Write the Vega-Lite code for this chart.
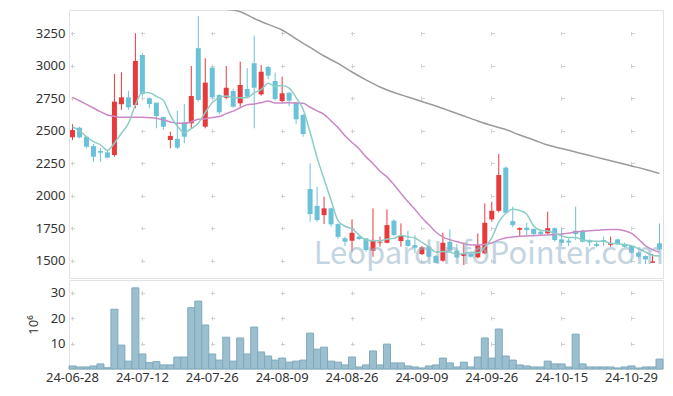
{
  "$schema": "https://vega.github.io/schema/vega-lite/v6.json",
  "background": "white",
  "padding": {"left": 26, "top": 9, "right": 10, "bottom": 5},
  "spacing": 0,
  "datasets": {
    "px": [
      {"d":"24-06-28","o":2450,"h":2550,"l":2429,"c":2505,"v":1.2,"m5":2531,"m20":2757},
      {"d":"24-07-01","o":2523,"h":2531,"l":2442,"c":2449,"v":0.8,"m5":2500,"m20":2731},
      {"d":"24-07-02","o":2454,"h":2456,"l":2365,"c":2377,"v":0.8,"m5":2454,"m20":2703},
      {"d":"24-07-03","o":2382,"h":2398,"l":2262,"c":2300,"v":1.2,"m5":2416,"m20":2675},
      {"d":"24-07-04","o":2344,"h":2370,"l":2262,"c":2331,"v":2.0,"m5":2392,"m20":2647},
      {"d":"24-07-05","o":2334,"h":2344,"l":2288,"c":2293,"v":0.5,"m5":2350,"m20":2621},
      {"d":"24-07-08","o":2313,"h":2937,"l":2300,"c":2724,"v":23.5,"m5":2405,"m20":2611},
      {"d":"24-07-09","o":2704,"h":2950,"l":2660,"c":2757,"v":9.4,"m5":2481,"m20":2603},
      {"d":"24-07-10","o":2757,"h":2808,"l":2660,"c":2680,"v":3.1,"m5":2557,"m20":2603},
      {"d":"24-07-11","o":2698,"h":3250,"l":2673,"c":3037,"v":31.9,"m5":2698,"m20":2603},
      {"d":"24-07-12","o":3083,"h":3096,"l":2762,"c":2783,"v":5.9,"m5":2796,"m20":2603},
      {"d":"24-07-15","o":2750,"h":2757,"l":2673,"c":2706,"v":2.5,"m5":2793,"m20":2600},
      {"d":"24-07-16","o":2716,"h":2716,"l":2519,"c":2613,"v":2.9,"m5":2764,"m20":2596},
      {"d":"24-07-17","o":2606,"h":2608,"l":2506,"c":2531,"v":1.6,"m5":2734,"m20":2583},
      {"d":"24-07-18","o":2429,"h":2493,"l":2365,"c":2460,"v":1.6,"m5":2619,"m20":2568},
      {"d":"24-07-19","o":2437,"h":2654,"l":2359,"c":2370,"v":4.7,"m5":2536,"m20":2557},
      {"d":"24-07-22","o":2565,"h":2706,"l":2403,"c":2454,"v":4.7,"m5":2486,"m20":2557},
      {"d":"24-07-23","o":2557,"h":2998,"l":2519,"c":2767,"v":24.1,"m5":2516,"m20":2570},
      {"d":"24-07-24","o":3135,"h":3383,"l":2724,"c":2737,"v":26.7,"m5":2558,"m20":2588},
      {"d":"24-07-25","o":2531,"h":3058,"l":2519,"c":2870,"v":17.3,"m5":2640,"m20":2592},
      {"d":"24-07-26","o":2985,"h":2993,"l":2750,"c":2757,"v":5.9,"m5":2717,"m20":2602},
      {"d":"24-07-29","o":2775,"h":2780,"l":2627,"c":2642,"v":3.5,"m5":2755,"m20":2609},
      {"d":"24-07-30","o":2754,"h":2998,"l":2744,"c":2831,"v":12.5,"m5":2767,"m20":2632},
      {"d":"24-07-31","o":2806,"h":2821,"l":2677,"c":2685,"v":3.1,"m5":2757,"m20":2651},
      {"d":"24-08-01","o":2711,"h":3032,"l":2685,"c":2852,"v":12.2,"m5":2753,"m20":2677},
      {"d":"24-08-02","o":2821,"h":2981,"l":2754,"c":2762,"v":5.9,"m5":2754,"m20":2701},
      {"d":"24-08-05","o":3019,"h":3232,"l":2519,"c":2831,"v":16.5,"m5":2792,"m20":2706},
      {"d":"24-08-06","o":2780,"h":3006,"l":2770,"c":2954,"v":6.7,"m5":2817,"m20":2716},
      {"d":"24-08-07","o":2991,"h":2998,"l":2898,"c":2924,"v":5.1,"m5":2865,"m20":2728},
      {"d":"24-08-08","o":2883,"h":2947,"l":2731,"c":2744,"v":3.5,"m5":2843,"m20":2714},
      {"d":"24-08-09","o":2729,"h":2916,"l":2716,"c":2788,"v":4.3,"m5":2848,"m20":2714},
      {"d":"24-08-12","o":2793,"h":2796,"l":2690,"c":2731,"v":2.7,"m5":2828,"m20":2715},
      {"d":"24-08-13","o":2716,"h":2719,"l":2552,"c":2588,"v":3.1,"m5":2755,"m20":2714},
      {"d":"24-08-14","o":2621,"h":2629,"l":2454,"c":2475,"v":3.5,"m5":2665,"m20":2711},
      {"d":"24-08-16","o":2052,"h":2249,"l":1800,"c":1859,"v":14.1,"m5":2488,"m20":2681},
      {"d":"24-08-19","o":1921,"h":2069,"l":1800,"c":1813,"v":7.8,"m5":2293,"m20":2653},
      {"d":"24-08-20","o":1851,"h":1992,"l":1782,"c":1903,"v":8.6,"m5":2128,"m20":2626},
      {"d":"24-08-21","o":1903,"h":1908,"l":1761,"c":1780,"v":3.1,"m5":1966,"m20":2576},
      {"d":"24-08-22","o":1782,"h":1787,"l":1667,"c":1684,"v":2.7,"m5":1808,"m20":2524},
      {"d":"24-08-23","o":1672,"h":1685,"l":1613,"c":1646,"v":1.6,"m5":1765,"m20":2462},
      {"d":"24-08-26","o":1654,"h":1819,"l":1569,"c":1715,"v":4.7,"m5":1746,"m20":2410},
      {"d":"24-08-27","o":1685,"h":1697,"l":1659,"c":1667,"v":0.8,"m5":1698,"m20":2362},
      {"d":"24-08-28","o":1672,"h":1672,"l":1569,"c":1582,"v":1.6,"m5":1659,"m20":2299},
      {"d":"24-08-29","o":1577,"h":1903,"l":1531,"c":1660,"v":7.1,"m5":1654,"m20":2248},
      {"d":"24-08-30","o":1639,"h":1685,"l":1608,"c":1646,"v":1.6,"m5":1654,"m20":2188},
      {"d":"24-09-02","o":1638,"h":1895,"l":1634,"c":1774,"v":9.8,"m5":1666,"m20":2145},
      {"d":"24-09-03","o":1808,"h":1818,"l":1690,"c":1698,"v":2.4,"m5":1672,"m20":2085},
      {"d":"24-09-04","o":1651,"h":1787,"l":1608,"c":1690,"v":2.4,"m5":1694,"m20":2018},
      {"d":"24-09-05","o":1659,"h":1731,"l":1608,"c":1613,"v":1.2,"m5":1684,"m20":1953},
      {"d":"24-09-06","o":1620,"h":1697,"l":1557,"c":1600,"v":0.8,"m5":1675,"m20":1896},
      {"d":"24-09-09","o":1551,"h":1613,"l":1544,"c":1603,"v":0.4,"m5":1641,"m20":1830},
      {"d":"24-09-10","o":1608,"h":1613,"l":1518,"c":1531,"v":1.2,"m5":1607,"m20":1776},
      {"d":"24-09-11","o":1536,"h":1544,"l":1480,"c":1484,"v":1.6,"m5":1566,"m20":1721},
      {"d":"24-09-12","o":1500,"h":1715,"l":1492,"c":1638,"v":4.3,"m5":1571,"m20":1682},
      {"d":"24-09-13","o":1646,"h":1741,"l":1569,"c":1577,"v":2.4,"m5":1567,"m20":1662},
      {"d":"24-09-19","o":1577,"h":1628,"l":1518,"c":1526,"v":0.8,"m5":1551,"m20":1646},
      {"d":"24-09-20","o":1536,"h":1639,"l":1467,"c":1551,"v":2.7,"m5":1555,"m20":1633},
      {"d":"24-09-23","o":1556,"h":1562,"l":1523,"c":1531,"v":0.8,"m5":1565,"m20":1621},
      {"d":"24-09-24","o":1526,"h":1711,"l":1518,"c":1621,"v":4.7,"m5":1561,"m20":1620},
      {"d":"24-09-25","o":1557,"h":1941,"l":1551,"c":1792,"v":12.2,"m5":1604,"m20":1627},
      {"d":"24-09-26","o":1818,"h":1954,"l":1800,"c":1884,"v":4.3,"m5":1676,"m20":1636},
      {"d":"24-09-27","o":1884,"h":2321,"l":1871,"c":2159,"v":15.7,"m5":1797,"m20":1660},
      {"d":"24-09-30","o":2216,"h":2224,"l":1865,"c":1869,"v":5.1,"m5":1865,"m20":1675},
      {"d":"24-10-02","o":1805,"h":1916,"l":1757,"c":1774,"v":3.5,"m5":1896,"m20":1682},
      {"d":"24-10-04","o":1738,"h":1757,"l":1684,"c":1751,"v":1.6,"m5":1887,"m20":1688},
      {"d":"24-10-07","o":1754,"h":1793,"l":1697,"c":1736,"v":1.2,"m5":1858,"m20":1690},
      {"d":"24-10-08","o":1744,"h":1749,"l":1690,"c":1705,"v":0.8,"m5":1767,"m20":1693},
      {"d":"24-10-10","o":1723,"h":1737,"l":1690,"c":1705,"v":0.8,"m5":1734,"m20":1695},
      {"d":"24-10-11","o":1711,"h":1877,"l":1703,"c":1750,"v":3.1,"m5":1729,"m20":1698},
      {"d":"24-10-14","o":1750,"h":1757,"l":1646,"c":1659,"v":2.0,"m5":1711,"m20":1702},
      {"d":"24-10-15","o":1664,"h":1750,"l":1613,"c":1638,"v":2.0,"m5":1691,"m20":1706},
      {"d":"24-10-16","o":1654,"h":1672,"l":1613,"c":1641,"v":0.8,"m5":1679,"m20":1712},
      {"d":"24-10-17","o":1731,"h":1916,"l":1659,"c":1705,"v":13.7,"m5":1679,"m20":1722},
      {"d":"24-10-18","o":1731,"h":1737,"l":1641,"c":1646,"v":2.0,"m5":1658,"m20":1726},
      {"d":"24-10-21","o":1654,"h":1664,"l":1613,"c":1641,"v":0.8,"m5":1654,"m20":1730},
      {"d":"24-10-22","o":1628,"h":1646,"l":1603,"c":1613,"v":0.8,"m5":1649,"m20":1734},
      {"d":"24-10-23","o":1659,"h":1685,"l":1613,"c":1644,"v":0.8,"m5":1650,"m20":1738},
      {"d":"24-10-24","o":1623,"h":1685,"l":1608,"c":1633,"v":0.8,"m5":1635,"m20":1741},
      {"d":"24-10-25","o":1664,"h":1669,"l":1621,"c":1626,"v":0.4,"m5":1631,"m20":1741},
      {"d":"24-10-28","o":1628,"h":1639,"l":1603,"c":1608,"v":0.8,"m5":1625,"m20":1730},
      {"d":"24-10-29","o":1613,"h":1618,"l":1557,"c":1562,"v":1.2,"m5":1615,"m20":1711},
      {"d":"24-10-30","o":1562,"h":1569,"l":1518,"c":1531,"v":0.4,"m5":1592,"m20":1665},
      {"d":"24-10-31","o":1536,"h":1541,"l":1474,"c":1510,"v":0.8,"m5":1567,"m20":1615},
      {"d":"24-11-01","o":1484,"h":1551,"l":1484,"c":1495,"v":0.8,"m5":1541,"m20":1585},
      {"d":"24-11-04","o":1634,"h":1787,"l":1580,"c":1587,"v":3.9,"m5":1537,"m20":1565}
    ],
    "ma": [
      {"d":"24-07-26","m":3452},{"d":"24-07-30","m":3435},{"d":"24-08-01","m":3416},
      {"d":"24-08-05","m":3364},{"d":"24-08-07","m":3318},{"d":"24-08-09","m":3275},
      {"d":"24-08-13","m":3206},{"d":"24-08-16","m":3141},{"d":"24-08-20","m":3075},
      {"d":"24-08-22","m":3018},{"d":"24-08-26","m":2952},{"d":"24-08-28","m":2891},
      {"d":"24-08-30","m":2837},{"d":"24-09-03","m":2794},{"d":"24-09-05","m":2760},
      {"d":"24-09-09","m":2725},{"d":"24-09-11","m":2690},{"d":"24-09-13","m":2652},
      {"d":"24-09-20","m":2613},{"d":"24-09-24","m":2575},{"d":"24-09-26","m":2540},
      {"d":"24-09-30","m":2510},{"d":"24-10-04","m":2467},{"d":"24-10-08","m":2429},
      {"d":"24-10-11","m":2390},{"d":"24-10-15","m":2363},{"d":"24-10-17","m":2336},
      {"d":"24-10-21","m":2309},{"d":"24-10-23","m":2282},{"d":"24-10-25","m":2256},
      {"d":"24-10-29","m":2229},{"d":"24-10-31","m":2202},{"d":"24-11-04","m":2172}
    ]
  },
  "vconcat": [
    {
      "width": 594,
      "height": 268,
      "encoding": {
        "x": {
          "field": "d", "type": "ordinal",
          "scale": {"paddingInner": 0, "paddingOuter": 0},
          "axis": {
            "labels": false, "ticks": false, "domain": false, "title": null,
            "grid": true, "bandPosition": 0.5,
            "values": ["24-06-28","24-07-12","24-07-26","24-08-09","24-08-26","24-09-09","24-09-26","24-10-15","24-10-29"],
            "gridColor": "#d0d0d0", "gridDash": [4, 28.48], "gridDashOffset": 11.18
          }
        }
      },
      "layer": [
        {
          "data": {"name": "px"},
          "mark": {"type": "rule", "strokeWidth": 1},
          "encoding": {
            "y": {
              "field": "l", "type": "quantitative",
              "scale": {"domain": [1367, 3429], "nice": false, "zero": false},
              "axis": {
                "values": [1500,1750,2000,2250,2500,2750,3000,3250], "format": "d", "labelOverlap": false,
                "title": null, "domain": false, "ticks": false, "labelPadding": 4,
                "grid": true, "gridColor": "#d0d0d0", "gridDash": [4, 66], "gridDashOffset": 68.5
              }
            },
            "y2": {"field": "h"},
            "color": {"condition": {"test": "datum.c > datum.o", "value": "#e8393b"}, "value": "#6ac2d8"}
          }
        },
        {
          "data": {"name": "px"},
          "mark": {"type": "bar", "width": 5},
          "encoding": {
            "y": {"field": "o", "type": "quantitative", "axis": {
                "values": [1500,1750,2000,2250,2500,2750,3000,3250], "format": "d", "labelOverlap": false,
                "title": null, "domain": false, "ticks": false, "labelPadding": 4,
                "grid": true, "gridColor": "#d0d0d0", "gridDash": [4, 66], "gridDashOffset": 68.5
              }},
            "y2": {"field": "c"},
            "color": {"condition": {"test": "datum.c > datum.o", "value": "#e8393b"}, "value": "#6ac2d8"}
          }
        },
        {
          "data": {"name": "px"},
          "mark": {"type": "line", "color": "#cc88c6", "strokeWidth": 1.5, "interpolate": "monotone"},
          "encoding": {"y": {"field": "m20", "type": "quantitative", "axis": {
                "values": [1500,1750,2000,2250,2500,2750,3000,3250], "format": "d", "labelOverlap": false,
                "title": null, "domain": false, "ticks": false, "labelPadding": 4,
                "grid": true, "gridColor": "#d0d0d0", "gridDash": [4, 66], "gridDashOffset": 68.5
              }}}
        },
        {
          "data": {"name": "px"},
          "mark": {"type": "line", "color": "#8ccdc5", "strokeWidth": 1.5, "interpolate": "monotone"},
          "encoding": {"y": {"field": "m5", "type": "quantitative", "axis": {
                "values": [1500,1750,2000,2250,2500,2750,3000,3250], "format": "d", "labelOverlap": false,
                "title": null, "domain": false, "ticks": false, "labelPadding": 4,
                "grid": true, "gridColor": "#d0d0d0", "gridDash": [4, 66], "gridDashOffset": 68.5
              }}}
        },
        {
          "data": {"name": "ma"},
          "mark": {"type": "line", "color": "#9a9a9a", "strokeWidth": 1.5, "interpolate": "monotone", "clip": true},
          "encoding": {"y": {"field": "m", "type": "quantitative", "axis": {
                "values": [1500,1750,2000,2250,2500,2750,3000,3250], "format": "d", "labelOverlap": false,
                "title": null, "domain": false, "ticks": false, "labelPadding": 4,
                "grid": true, "gridColor": "#d0d0d0", "gridDash": [4, 66], "gridDashOffset": 68.5
              }}}
        },
        {
          "data": {"values": [{"t": "LeopardInfoPointer.com"}]},
          "mark": {"type": "text", "font": "Noto Sans CJK KR", "fontSize": 31, "align": "center", "baseline": "alphabetic", "color": "#94b4cb", "opacity": 0.55, "dx": 4},
          "encoding": {
            "x": {"datum": "24-09-25", "type": "ordinal"},
            "y": {"datum": 1474, "type": "quantitative", "axis": {
                "values": [1500,1750,2000,2250,2500,2750,3000,3250], "format": "d", "labelOverlap": false,
                "title": null, "domain": false, "ticks": false, "labelPadding": 4,
                "grid": true, "gridColor": "#d0d0d0", "gridDash": [4, 66], "gridDashOffset": 68.5
              }},
            "text": {"field": "t"}
          }
        }
      ]
    },
    {
      "width": 594,
      "height": 89,
      "data": {"name": "px"},
      "mark": {"type": "bar", "fill": "#9cbfcf", "stroke": "#7fa9bc", "strokeWidth": 1},
      "encoding": {
        "x": {
          "field": "d", "type": "ordinal",
          "scale": {"paddingInner": 0, "paddingOuter": 0},
          "axis": {
            "values": ["24-06-28","24-07-12","24-07-26","24-08-09","24-08-26","24-09-09","24-09-26","24-10-15","24-10-29"],
            "title": null, "ticks": false, "domain": false, "labelAngle": 0, "labelPadding": 2,
            "grid": true, "bandPosition": 0.5, "gridColor": "#d0d0d0", "gridDash": [4, 21.43], "gridDashOffset": 14.72
          }
        },
        "y": {
          "field": "v", "type": "quantitative",
          "scale": {"domain": [0, 35], "nice": false},
          "axis": {
            "values": [10, 20, 30], "title": "10⁶", "domain": false, "ticks": false, "labelPadding": 4,
            "titleFontWeight": "normal", "titleFontSize": 13, "titlePadding": 10,
            "grid": true, "gridColor": "#d0d0d0", "gridDash": [4, 66], "gridDashOffset": 68.5
          }
        }
      }
    }
  ],
  "config": {
    "font": "Noto Sans",
    "view": {"stroke": "#e2e2e2"},
    "axis": {"labelFontSize": 13, "labelColor": "#333333", "titleColor": "#333333", "labelFont": "Noto Sans", "titleFont": "Noto Sans", "labelOverlap": false},
    "axisY": {"labelOverlap": false}
  }
}
